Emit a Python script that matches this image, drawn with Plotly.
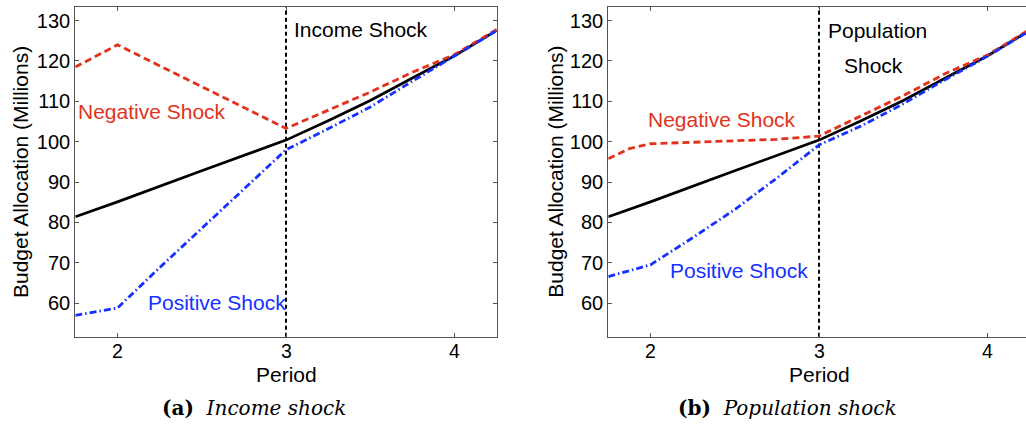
import plotly.graph_objects as go

# ---- data ----
period_black = [1.75, 2.0, 2.5, 3.0, 3.25, 3.5, 3.75, 4.0, 4.25]
baseline = [81.4, 85.1, 92.8, 100.4, 105.2, 110.2, 115.8, 121.3, 127.6]

inc_neg_x = [1.75, 2.0, 3.0, 3.25, 3.5, 3.75, 4.0, 4.25]
inc_neg_y = [118.5, 124.0, 103.3, 107.8, 112.3, 117.2, 121.6, 127.8]
inc_pos_x = [1.75, 2.0, 2.25, 2.5, 2.75, 3.0, 3.25, 3.5, 3.75, 4.0, 4.25]
inc_pos_y = [57.0, 58.8, 68.8, 78.6, 88.3, 98.0, 103.2, 108.6, 115.0, 121.2, 127.5]

pop_neg_x = [1.75, 1.875, 2.0, 2.25, 2.5, 2.75, 3.0, 3.25, 3.5, 3.75, 4.0, 4.25]
pop_neg_y = [95.8, 98.3, 99.5, 99.9, 100.3, 100.6, 101.4, 106.5, 111.4, 116.9, 121.5, 127.8]
pop_pos_x = [1.75, 2.0, 2.25, 2.5, 2.75, 3.0, 3.25, 3.5, 3.75, 4.0, 4.25]
pop_pos_y = [66.6, 69.5, 76.2, 83.2, 91.0, 99.2, 103.9, 109.4, 115.4, 121.2, 127.5]

x_ticks = [2, 3, 4]
x_tick_labels = ["2", "3", "4"]
y_ticks = [60, 70, 80, 90, 100, 110, 120, 130]
shock_period = 3

# ---- styling ----
W, H = 1026, 426
RED = "#e2321c"
BLUE = "#1530ff"
BLACK = "#000000"
AXC = "#555555"
SANS = "Liberation Sans, Arial, Helvetica, sans-serif"
SERIF = "DejaVu Serif, serif"

def px_x(p):
    return p / W

def px_y(p):
    return 1 - p / H

top_px, bot_px = 7.3, 336.7
left_dom = [px_x(75.3), px_x(496.7)]
right_dom = [px_x(608.3), 1.0]
ydom = [px_y(bot_px), px_y(top_px)]

fig = go.Figure()

def add_panel(xa, ya, negx, negy, posx, posy):
    fig.add_trace(go.Scatter(x=period_black, y=baseline, mode="lines",
                             line=dict(color=BLACK, width=2.7),
                             xaxis=xa, yaxis=ya, showlegend=False, hoverinfo="skip"))
    fig.add_trace(go.Scatter(x=negx, y=negy, mode="lines",
                             line=dict(color=RED, width=2.8, dash="7px,4px"),
                             xaxis=xa, yaxis=ya, showlegend=False, hoverinfo="skip"))
    fig.add_trace(go.Scatter(x=posx, y=posy, mode="lines",
                             line=dict(color=BLUE, width=2.8, dash="7px,3px,1.5px,3px"),
                             xaxis=xa, yaxis=ya, showlegend=False, hoverinfo="skip"))

add_panel("x", "y", inc_neg_x, inc_neg_y, inc_pos_x, inc_pos_y)
add_panel("x2", "y2", pop_neg_x, pop_neg_y, pop_pos_x, pop_pos_y)

axis_common = dict(showgrid=False, zeroline=False, showline=True, linecolor=AXC,
                   linewidth=1.2, ticks="inside", ticklen=4, tickcolor=AXC,
                   tickfont=dict(family=SANS, size=20, color="black"))

fig.update_layout(
    width=W, height=H,
    margin=dict(l=0, r=0, t=0, b=0),
    paper_bgcolor="white", plot_bgcolor="white",
    xaxis=dict(domain=left_dom, range=[1.75, 4.25], tickvals=x_ticks,
               showticklabels=False, mirror="ticks", anchor="y", **axis_common),
    yaxis=dict(domain=ydom, range=[51.7, 133.3], tickvals=y_ticks,
               mirror="ticks", anchor="x", **axis_common),
    xaxis2=dict(domain=right_dom, range=[1.75, 4.2278], tickvals=x_ticks,
                showticklabels=False, mirror="ticks", anchor="y2", **axis_common),
    yaxis2=dict(domain=ydom, range=[51.7, 133.3], tickvals=y_ticks,
                mirror=False, anchor="x2", **axis_common),
)

for xr, yr in [("x", "y"), ("x2", "y2")]:
    fig.add_shape(type="line", xref=xr, yref=f"{yr} domain",
                  x0=shock_period, x1=shock_period, y0=0, y1=1,
                  line=dict(color=BLACK, width=2, dash="4px,3px"), layer="below")
    # x tick labels placed on the data scale
    for tv, tl in zip(x_ticks, x_tick_labels):
        fig.add_annotation(text=tl, x=tv, xref=xr, y=px_y(350.5), yref="paper",
                           xanchor="center", yanchor="middle", showarrow=False,
                           font=dict(family=SANS, size=19.5, color="black"))

def ann(text, xp, yp, color="black", size=21, family=SANS, xanchor="left", angle=0):
    fig.add_annotation(text=text, x=px_x(xp), y=px_y(yp), xref="paper", yref="paper",
                       xanchor=xanchor, yanchor="middle", showarrow=False,
                       textangle=angle, font=dict(family=family, size=size, color=color))

# left panel texts
ann("Income Shock", 291.5, 29.3)
ann("Negative Shock", 75.5, 111, RED)
ann("Positive Shock", 145.5, 302.7, BLUE)
ann("Period", 286, 374, xanchor="center")
ann("Budget Allocation (Millions)", 20, 172, xanchor="center", angle=-90)
ann("<b>(a)</b>  <i>Income shock</i>", 253.8, 408, family=SERIF, size=20, xanchor="center")

# right panel texts
ann("Population", 825.8, 30)
ann("Shock", 841.8, 65.7)
ann("Negative Shock", 646, 119.3, RED)
ann("Positive Shock", 668, 270.7, BLUE)
ann("Period", 819, 374, xanchor="center")
ann("Budget Allocation (Millions)", 554.7, 172, xanchor="center", angle=-90)
ann("<b>(b)</b>  <i>Population shock</i>", 787.7, 408, family=SERIF, size=20, xanchor="center")

fig.write_html("out.html")
